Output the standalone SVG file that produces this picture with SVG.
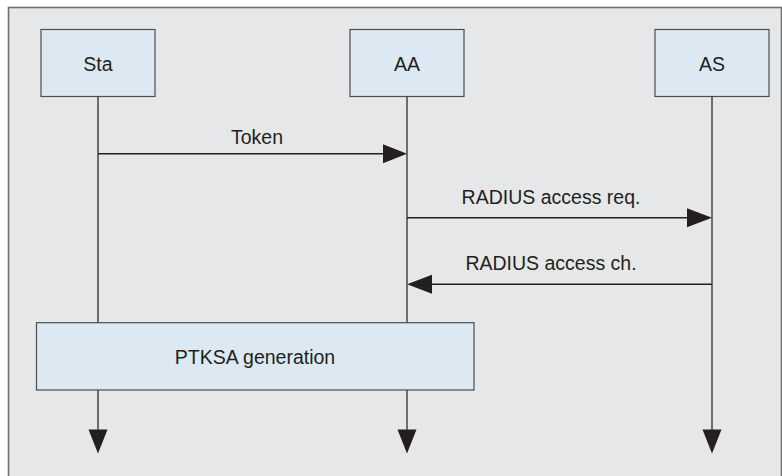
<svg xmlns="http://www.w3.org/2000/svg" width="782" height="476" viewBox="0 0 782 476">
<defs>
<style>
.bg{fill:#e6e7e8;stroke:#6d6e70;stroke-width:1.6}
.box{fill:#dce9f3;stroke:#4d4d4f;stroke-width:1.2}
.life{stroke:#3a3a3c;stroke-width:1.4;fill:none}
.msg{stroke:#231f20;stroke-width:1.4;fill:none}
text{font-family:"Liberation Sans",Arial,sans-serif;font-size:19.5px;fill:#231f20;text-anchor:middle}
.head{fill:#231f20}
</style>
</defs>
<rect class="bg" x="8.5" y="7.5" width="773" height="480"/>
<g id="Sta">
<rect class="box" x="41" y="29.5" width="114" height="67"/>
<text x="98" y="70.5">Sta</text>
</g>
<g id="AA">
<rect class="box" x="350" y="29.5" width="114" height="67"/>
<text x="407" y="70.5">AA</text>
</g>
<g id="AS">
<rect class="box" x="655" y="29.5" width="114" height="67"/>
<text x="712" y="70.5">AS</text>
</g>
<g id="connectors">
<line class="life" x1="98" y1="96.5" x2="98" y2="323"/>
<line class="life" x1="407" y1="96.5" x2="407" y2="323"/>
<line class="life" x1="98" y1="390" x2="98" y2="432"/>
<line class="life" x1="407" y1="390" x2="407" y2="432"/>
<line class="life" x1="712" y1="96.5" x2="712" y2="432"/>
<polygon class="head" points="88.5,429.5 107.5,429.5 98,453.5"/>
<polygon class="head" points="397.5,429.5 416.5,429.5 407,453.5"/>
<polygon class="head" points="702.5,429.5 721.5,429.5 712,453.5"/>
<line class="msg" x1="98" y1="153.7" x2="386" y2="153.7"/>
<polygon class="head" points="383,144.2 407,153.7 383,163.2"/>
<text x="257" y="144">Token</text>
<line class="msg" x1="407" y1="217.7" x2="690" y2="217.7"/>
<polygon class="head" points="687,208.2 712,217.7 687,227.2"/>
<text x="551" y="203.5">RADIUS access req.</text>
<line class="msg" x1="712" y1="284.3" x2="428" y2="284.3"/>
<polygon class="head" points="432,274.8 407,284.3 432,293.8"/>
<text x="551" y="270">RADIUS access ch.</text>
</g>
<g id="PTKSA">
<rect class="box" x="36.5" y="322.7" width="437.5" height="67.3"/>
<text x="255" y="363.5">PTKSA generation</text>
</g>
</svg>
